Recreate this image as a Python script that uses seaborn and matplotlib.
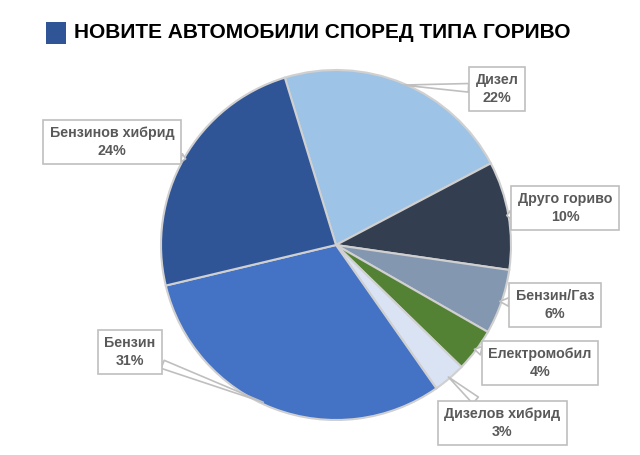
import matplotlib
matplotlib.use("Agg")
import matplotlib.pyplot as plt
import numpy as np
import seaborn as sns

categories = ["Дизел", "Друго гориво", "Бензин/Газ", "Електромобил",
              "Дизелов хибрид", "Бензин", "Бензинов хибрид"]
values = [22, 10, 6, 4, 3, 31, 24]
colors = ["#9DC3E6", "#333F50", "#8497B0", "#548235",
          "#DAE3F3", "#4472C4", "#2F5597"]
title = "НОВИТЕ АВТОМОБИЛИ СПОРЕД ТИПА ГОРИВО"

sns.set_theme(style="white")
plt.rcParams['font.family'] = ['Liberation Sans', 'DejaVu Sans']

W, H = 640, 455
fig = plt.figure(figsize=(W / 100, H / 100), dpi=100)
fig.patch.set_facecolor("white")

cx, cy, R = 336, 245, 175
ax = fig.add_axes([(cx - R) / W, (H - cy - R) / H, 2 * R / W, 2 * R / H])
wedges, _ = ax.pie(values, colors=colors, startangle=107, counterclock=False,
                   radius=1.0,
                   wedgeprops=dict(edgecolor="#D0D0D0", linewidth=1.5))
ax.set_xlim(-1, 1)
ax.set_ylim(-1, 1)
ax.set_aspect("equal")
ax.axis("off")

# label box centres (figure pixels, from top-left)
label_pos = [(497, 89), (565, 208), (555, 305), (540, 363),
             (502, 423), (130, 352), (112, 142)]
tip_shift = [0, 0, 0, 0, 0, -4, 0]

for w, cat, v, (lx, ly), sh in zip(wedges, categories, values, label_pos, tip_shift):
    ang = np.deg2rad((w.theta1 + w.theta2) / 2 + sh)
    tip = (0.99 * np.cos(ang), 0.99 * np.sin(ang))
    ax.annotate(f"{cat}\n{v}%", xy=tip, xycoords="data",
                xytext=(lx / W, 1 - ly / H), textcoords="figure fraction",
                ha="center", va="center", fontsize=10.3, fontweight="bold",
                color="#595959", linespacing=1.3,
                bbox=dict(boxstyle="square,pad=0.45", fc="white",
                          ec="#BFBFBF", lw=1.2),
                arrowprops=dict(arrowstyle="wedge,tail_width=0.6,shrink_factor=0.5",
                                fc="white", ec="#BFBFBF", lw=1.2,
                                shrinkA=0, shrinkB=0),
                annotation_clip=False, zorder=5)

# title with square marker
fig.patches.append(plt.Rectangle((46 / W, 1 - 44 / H), 20 / W, 22 / H,
                                 transform=fig.transFigure,
                                 fc="#2F5597", ec="none"))
t = fig.text(74 / W, 1 - 33 / H, title, ha="left", va="center",
             fontsize=21, fontweight="bold", color="black")
renderer = fig.canvas.get_renderer()
wpx = t.get_window_extent(renderer).width
t.set_fontsize(21 * 496 / wpx)

fig.savefig("out.png", dpi=100)
